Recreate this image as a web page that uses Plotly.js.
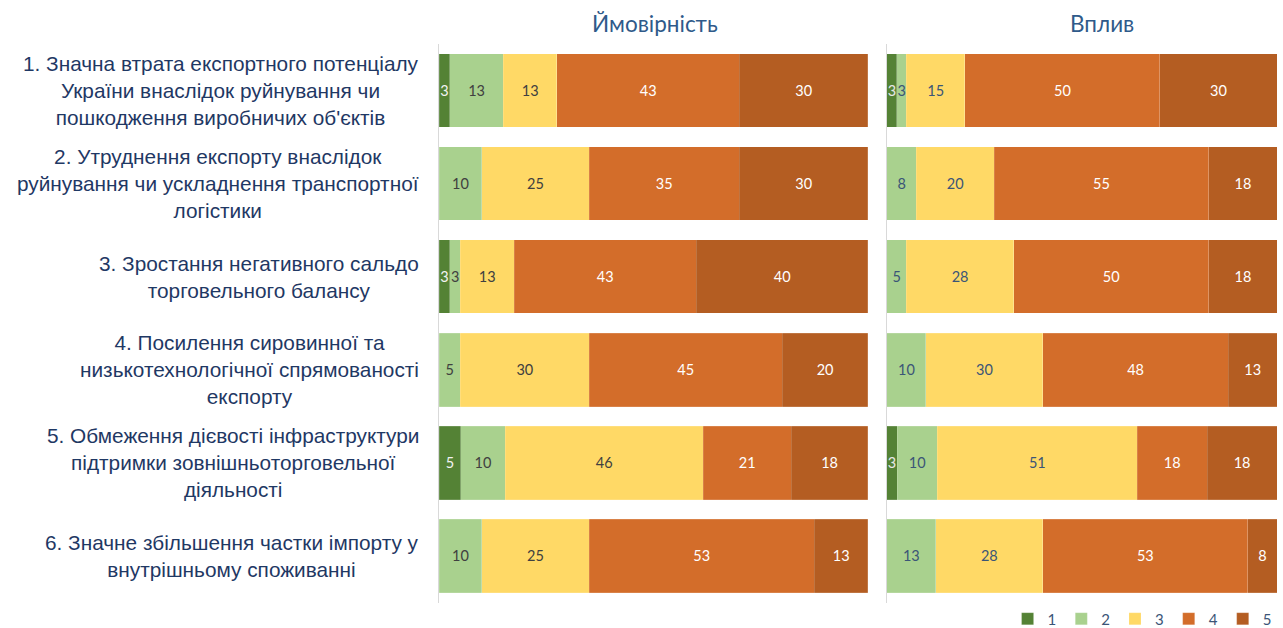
<!DOCTYPE html>
<html>
<head>
<meta charset="utf-8">
<script src="https://cdn.plot.ly/plotly-3.0.1.min.js"></script>
<style>
html,body{margin:0;padding:0;background:#fff;}
#chart{width:1283px;height:628px;}
</style>
</head>
<body>
<div id="chart"></div>
<script>
// Row identifiers (top to bottom)
const rows = ['r1', 'r2', 'r3', 'r4', 'r5', 'r6'];
const rowLabels = [
  "1. Значна втрата експортного потенціалу<br>України внаслідок руйнування чи<br>пошкодження виробничих об'єктів",
  "2. Утруднення експорту внаслідок<br>руйнування чи ускладнення транспортної<br>логістики",
  "3. Зростання негативного сальдо<br>торговельного балансу",
  "4. Посилення сировинної та<br>низькотехнологічної спрямованості<br>експорту",
  "5. Обмеження дієвості інфраструктури<br>підтримки зовнішньоторговельної<br>діяльності",
  "6. Значне збільшення частки імпорту у<br>внутрішньому споживанні"
];
const scoreNames = ['1', '2', '3', '4', '5'];
const panelTitles = ['Ймовірність', 'Вплив'];

// Ймовірність (probability), share of answers, %
const prob1 = [2.5, null, 2.5, null, 5.1, null];
const prob2 = [12.5, 10, 2.5, 5, 10.3, 10];
const prob3 = [12.5, 25, 12.5, 30, 46.2, 25];
const prob4 = [42.5, 35, 42.5, 45, 20.5, 52.5];
const prob5 = [30, 30, 40, 20, 17.9, 12.5];

// Вплив (impact), share of answers, %
const imp1 = [2.5, null, null, null, 2.6, null];
const imp2 = [2.5, 7.5, 5, 10, 10.3, 12.5];
const imp3 = [15, 20, 27.5, 30, 51.3, 27.5];
const imp4 = [50, 55, 50, 47.5, 17.9, 52.5];
const imp5 = [30, 17.5, 17.5, 12.5, 17.9, 7.5];

const colors = ['#548235', '#A9D18E', '#FFD966', '#D36D2A', '#B45D22'];
const textColorsL = ['#F2F2F2', '#404040', '#404040', '#FFFFFF', '#FFFFFF'];
const textColorsR = ['#E8E8E8', '#3B5577', '#3B5577', '#FFFFFF', '#FFFFFF'];

const probSeries = [prob1, prob2, prob3, prob4, prob5];
const impSeries = [imp1, imp2, imp3, imp4, imp5];

const traces = [];
function addPanel(series, xa, ya, txtColors, showLegend) {
  series.forEach((vals, i) => {
    traces.push({
      type: 'bar',
      orientation: 'h',
      name: scoreNames[i],
      legendgroup: scoreNames[i],
      showlegend: showLegend,
      x: vals,
      y: rows,
      xaxis: xa,
      yaxis: ya,
      width: 0.79,
      marker: {color: colors[i], line: {color: 'rgba(255,255,255,0.3)', width: 0.5}},
      texttemplate: '%{x:.0f}',
      textposition: 'inside',
      insidetextanchor: 'middle',
      constraintext: 'none',
      textfont: {family: 'Lato, "Open Sans", sans-serif', size: 14.5, color: txtColors[i]},
      hoverinfo: 'x+name'
    });
  });
}
addPanel(probSeries, 'x', 'y', textColorsL, true);
addPanel(impSeries, 'x2', 'y2', textColorsR, false);

const annotations = [];
rowLabels.forEach((t, i) => {
  annotations.push({
    text: t, x: 0, xref: 'paper', xanchor: 'right', xshift: -18,
    y: rows[i], yref: 'y', yanchor: 'middle', align: 'center', showarrow: false,
    font: {family: '"Liberation Sans", Arial, sans-serif', size: 20.8, color: '#1F3864'}
  });
});
const titleX = [0.2578, 0.7912];
panelTitles.forEach((t, i) => {
  annotations.push({
    text: t, x: titleX[i], xref: 'paper', xanchor: 'center',
    y: 1, yref: 'paper', yanchor: 'middle', yshift: 21, showarrow: false,
    font: {family: 'Lato, "Open Sans", sans-serif', size: 22.5, color: '#2F5A8A'}
  });
});

const layout = {
  width: 1283, height: 628,
  margin: {l: 439, r: 6, t: 44, b: 23, pad: 0},
  paper_bgcolor: '#FFFFFF', plot_bgcolor: '#FFFFFF',
  barmode: 'stack',
  showlegend: true,
  legend: {
    orientation: 'h', x: 0.995, xanchor: 'right', y: 0.0143, yanchor: 'middle',
    xref: 'container', yref: 'container', traceorder: 'normal', itemwidth: 30,
    bgcolor: 'rgba(0,0,0,0)',
    font: {family: 'Lato, "Open Sans", sans-serif', size: 15, color: '#3B5577'}
  },
  xaxis: {domain: [0, 0.5119], range: [0, 100], anchor: 'y', showgrid: false, zeroline: false, showticklabels: false, ticks: ''},
  xaxis2: {domain: [0.5346, 1], range: [0, 100], anchor: 'y2', showgrid: false, zeroline: false, showticklabels: false, ticks: ''},
  yaxis: {type: 'category', categoryorder: 'array', categoryarray: rows, range: [5.5, -0.5], anchor: 'x',
          showline: true, linecolor: '#D9D9D9', linewidth: 1, showgrid: false, showticklabels: false, ticks: ''},
  yaxis2: {type: 'category', categoryorder: 'array', categoryarray: rows, range: [5.5, -0.5], anchor: 'x2', matches: 'y',
           showline: true, linecolor: '#D9D9D9', linewidth: 1, showgrid: false, showticklabels: false, ticks: ''},
  annotations: annotations
};

Plotly.newPlot('chart', traces, layout, {displayModeBar: false, staticPlot: true});
</script>
</body>
</html>
